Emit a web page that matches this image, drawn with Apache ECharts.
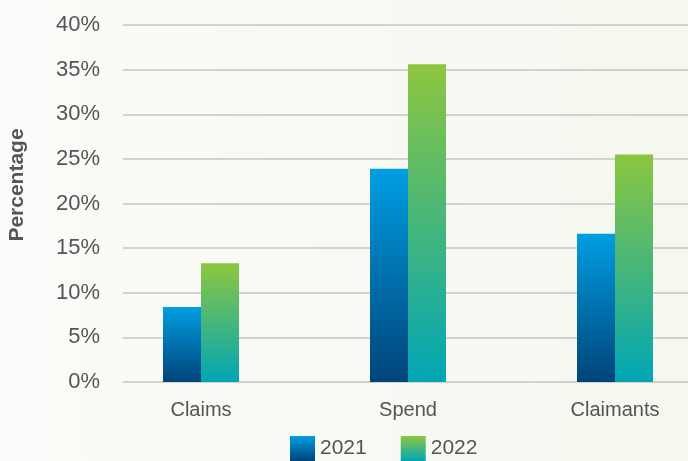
<!DOCTYPE html>
<html>
<head>
<meta charset="utf-8">
<script src="https://cdn.jsdelivr.net/npm/echarts@6/dist/echarts.min.js"></script>
<style>
  html, body { margin: 0; padding: 0; }
  #chart { width: 688px; height: 461px; }
</style>
</head>
<body>
<div id="chart"></div>
<script>
// data
var categories = ["Claims", "Spend", "Claimants"];
var years = ["2021", "2022"];
var values2021 = [8.4, 23.9, 16.6];
var values2022 = [13.3, 35.6, 25.5];
var yTicks = { min: 0, max: 40, step: 5 };

var chart = echarts.init(document.getElementById("chart"));

function grad(top, bottom) {
  return new echarts.graphic.LinearGradient(0, 0, 0, 1, [
    { offset: 0, color: top },
    { offset: 1, color: bottom }
  ]);
}

var font = "Liberation Sans";

chart.setOption({
  backgroundColor: new echarts.graphic.LinearGradient(0, 0, 1, 0, [
    { offset: 0, color: "#fbfbf9" },
    { offset: 1, color: "#f4f8ee" }
  ]),
  textStyle: { fontFamily: font },
  legend: {
    data: years,
    left: 290,
    top: 436,
    padding: 0,
    itemWidth: 25,
    itemHeight: 25,
    itemGap: 34,
    icon: "rect",
    textStyle: { fontSize: 21, color: "#555555", fontFamily: font }
  },
  graphic: [
    {
      type: "text",
      x: 17,
      y: 185,
      rotation: Math.PI / 2,
      style: {
        text: "Percentage",
        font: "bold 21px " + font,
        fill: "#555555",
        textAlign: "center",
        textVerticalAlign: "middle"
      }
    }
  ],
  grid: [
    // grid lines + y labels
    { left: 123, right: 0, top: 25, bottom: 79, outerBoundsMode: "none" },
    // bars + category labels (wider than the canvas on the right)
    { left: 97.5, width: 621, top: 25, bottom: 79, outerBoundsMode: "none" }
  ],
  xAxis: [
    { gridIndex: 0, type: "category", data: categories, show: false },
    {
      gridIndex: 1,
      type: "category",
      data: categories,
      axisLine: { show: false },
      axisTick: { show: false },
      axisLabel: { fontSize: 20, color: "#555555", margin: 18, fontFamily: font }
    }
  ],
  yAxis: [
    {
      gridIndex: 0,
      type: "value",
      min: yTicks.min,
      max: yTicks.max,
      interval: yTicks.step,
      axisLine: { show: false },
      axisTick: { show: false },
      axisLabel: {
        formatter: "{value}%",
        fontSize: 22,
        color: "#555555",
        margin: 23,
        fontFamily: font
      },
      splitLine: { lineStyle: { color: "#c6c6c6", width: 1.5 } }
    },
    {
      gridIndex: 1,
      type: "value",
      min: yTicks.min,
      max: yTicks.max,
      show: false,
      splitLine: { show: false }
    }
  ],
  series: [
    {
      name: years[0],
      type: "bar",
      xAxisIndex: 1,
      yAxisIndex: 1,
      barWidth: 38,
      barGap: "0%",
      itemStyle: { color: grad("#009ee2", "#004479") },
      data: values2021
    },
    {
      name: years[1],
      type: "bar",
      xAxisIndex: 1,
      yAxisIndex: 1,
      barWidth: 38,
      barGap: "0%",
      itemStyle: { color: grad("#8dc63f", "#00a6b6") },
      data: values2022
    }
  ]
});
</script>
</body>
</html>
